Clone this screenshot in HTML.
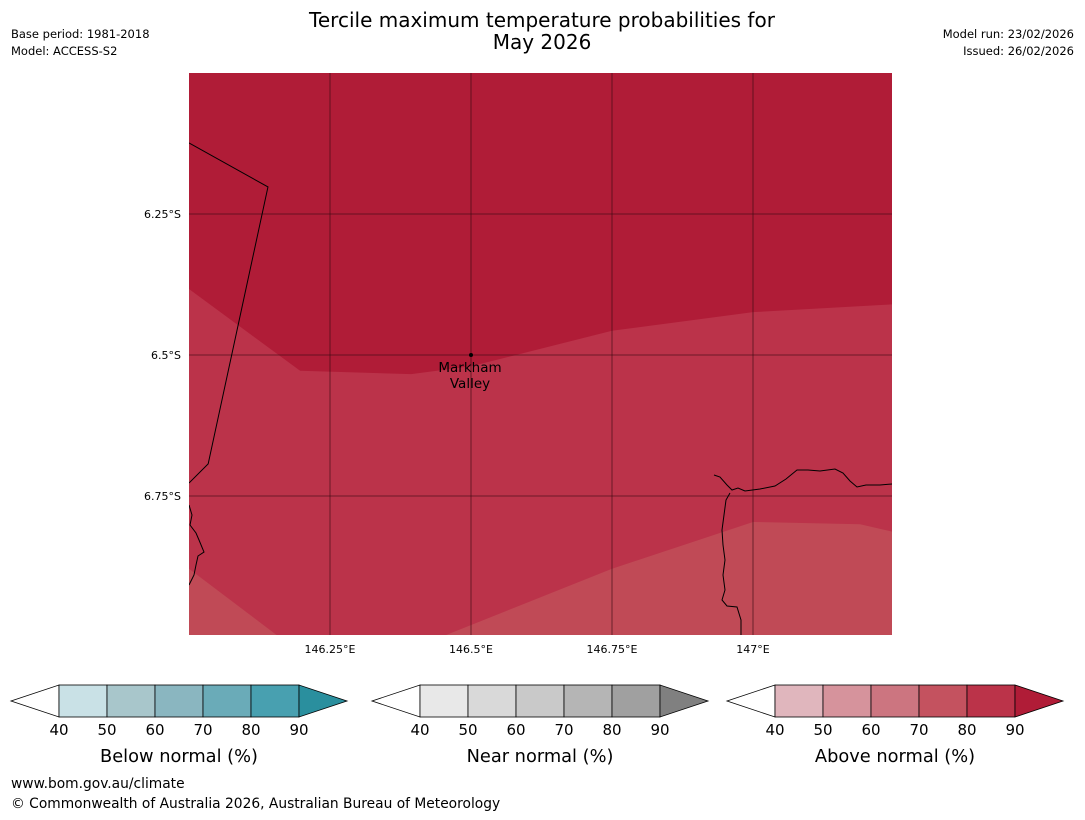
<!DOCTYPE html>
<html><head><meta charset="utf-8"><style>
body{margin:0;background:#fff;font-family:"DejaVu Sans","Liberation Sans",sans-serif;}
svg text{font-family:"DejaVu Sans","Liberation Sans",sans-serif;}
</style></head><body>
<svg id="s" width="1085" height="816" viewBox="0 0 1085 816" xmlns="http://www.w3.org/2000/svg">
<text x="542" y="27" font-size="20" text-anchor="middle">Tercile maximum temperature probabilities for</text>
<text x="542" y="49" font-size="20" text-anchor="middle">May 2026</text>
<text x="11" y="38" font-size="11.5">Base period: 1981-2018</text>
<text x="11" y="55" font-size="11.5">Model: ACCESS-S2</text>
<text x="1074" y="38" font-size="11.5" text-anchor="end">Model run: 23/02/2026</text>
<text x="1074" y="55" font-size="11.5" text-anchor="end">Issued: 26/02/2026</text>
<defs><clipPath id="mc"><rect x="189" y="73" width="703" height="562"/></clipPath></defs>
<g id="map" clip-path="url(#mc)"></g>
<g id="bars"></g>
<text x="11" y="788" font-size="13.8">www.bom.gov.au/climate</text>
<text x="11" y="808" font-size="13.8">© Commonwealth of Australia 2026, Australian Bureau of Meteorology</text>
</svg>
<script>
const NS="http://www.w3.org/2000/svg";
const lonTicks=[146.25,146.5,146.75,147];
const lonLabels=["146.25°E","146.5°E","146.75°E","147°E"];
const latTicks=[-6.25,-6.5,-6.75];
const latLabels=["6.25°S","6.5°S","6.75°S"];
const darkEdgeLon=[146.0,146.197,146.394,146.5,146.75,147.0,147.25];
const darkEdgeLat=[-6.383,-6.528,-6.534,-6.52,-6.457,-6.424,-6.41];
const lightEdgeLon=[146.0,146.16,146.447,146.75,147.0,147.19,147.25];
const lightEdgeLat=[-6.879,-7.0,-7.0,-6.879,-6.796,-6.8,-6.814];
const borderLon=[146.0,146.14,146.034,146.0];
const borderLat=[-6.124,-6.202,-6.693,-6.727];
const colorTicks=[40,50,60,70,80,90];
const belowColors=["#c9e1e6","#a8c6cb","#8ab6c0","#6aabb8","#48a0b0","#2a8f9e"];
const nearColors=["#e8e8e8","#d9d9d9","#c9c9c9","#b5b5b5","#a0a0a0","#808080"];
const aboveColors=["#e0b6bd","#d6939c","#cc7580","#c4525f","#bb3349","#b01c37"];
const X=lon=>189+(lon-146.0)*564;
const Y=lat=>73+(-6.0-lat)*564;
const svg=document.getElementById('s'),map=document.getElementById('map'),bars=document.getElementById('bars');
function mk(tag,attrs,parent){const e=document.createElementNS(NS,tag);for(const k in attrs)e.setAttribute(k,attrs[k]);(parent||svg).appendChild(e);return e;}
let r=mk('rect',{x:189,y:73,width:703,height:562,fill:'#bb334a'},map);


let pts=darkEdgeLon.map((l,i)=>X(l)+','+Y(darkEdgeLat[i]));
let d=mk('polygon',{points:'189,73 892,73 '+pts.reverse().join(' '),fill:'#b01c37'},map);


let lp=lightEdgeLon.map((l,i)=>X(l)+','+Y(lightEdgeLat[i]));
let lg1=mk('polygon',{points:lp.slice(0,2).join(' ')+' 189,635',fill:'#c04a56'},map);


let lg2=mk('polygon',{points:lp.slice(2).join(' ')+' 892,635',fill:'#c04a56'},map);


lonTicks.forEach((l,i)=>{let g=mk('line',{x1:X(l),x2:X(l),y1:73,y2:635,stroke:'#3a0a12','stroke-width':0.8,opacity:0.8},map);


let t=mk('text',{x:X(l),y:653,'font-size':11,'text-anchor':'middle'});t.textContent=lonLabels[i];

});
latTicks.forEach((l,i)=>{let g=mk('line',{x1:189,x2:892,y1:Y(l),y2:Y(l),stroke:'#3a0a12','stroke-width':0.8,opacity:0.8},map);


let t=mk('text',{x:181,y:Y(l)+4,'font-size':11,'text-anchor':'end'});t.textContent=latLabels[i];

});
let b=mk('polyline',{points:borderLon.map((l,i)=>X(l)+','+Y(borderLat[i])).join(' '),fill:'none',stroke:'#000','stroke-width':1},map);


let c1=mk('path',{d:'M189,505 L192,515 L190,525 L196,533 L199,540 L204,552 L198,556 L196,565 L194,575 L189,585',fill:'none',stroke:'#000','stroke-width':1},map);


let c2=mk('path',{d:'M714,475 L720,477 L727,485 L732,490 L738,488 L745,491 L760,489 L775,486 L786,479 L797,470 L808,470 L820,471 L835,469 L843,473 L850,481 L857,487 L866,485 L880,485 L892,484 M730,493 L726,500 L724,515 L722,530 L723,545 L725,560 L723,575 L725,590 L722,600 L727,606 L737,607 L741,620 L741,635',fill:'none',stroke:'#000','stroke-width':1},map);


let dot=mk('circle',{cx:X(146.5),cy:Y(-6.5),r:2,fill:'#000'});


let t1=mk('text',{x:470,y:372,'font-size':13.5,'text-anchor':'middle'});t1.textContent='Markham';


let t2=mk('text',{x:470,y:388,'font-size':13.5,'text-anchor':'middle'});t2.textContent='Valley';


function colorbar(x0,colors,label,name){
 const y0=685,h=32,w=48,sx=x0+48;
 let lt=mk('polygon',{points:`${sx},${y0} ${sx},${y0+h} ${x0},${y0+h/2}`,fill:'#fff',stroke:'#000','stroke-width':0.8},bars);
 
 
 for(let i=0;i<5;i++){let s=mk('rect',{x:sx+i*w,y:y0,width:w,height:h,fill:colors[i],stroke:'#000','stroke-width':0.8},bars);
  
  }
 let rt=mk('polygon',{points:`${sx+5*w},${y0} ${sx+5*w},${y0+h} ${sx+6*w},${y0+h/2}`,fill:colors[5],stroke:'#000','stroke-width':0.8},bars);
 
 
 colorTicks.forEach((v,i)=>{let t=mk('text',{x:sx+i*w,y:735,'font-size':15,'text-anchor':'middle'},bars);t.textContent=v;
  
  });
 let l=mk('text',{x:sx+2.5*w,y:762,'font-size':17.8,'text-anchor':'middle'},bars);l.textContent=label;
 
 
}
colorbar(11,belowColors,'Below normal (%)','below-colorbar');
colorbar(372,nearColors,'Near normal (%)','near-colorbar');
colorbar(727,aboveColors,'Above normal (%)','above-colorbar');
</script>
</body></html>
